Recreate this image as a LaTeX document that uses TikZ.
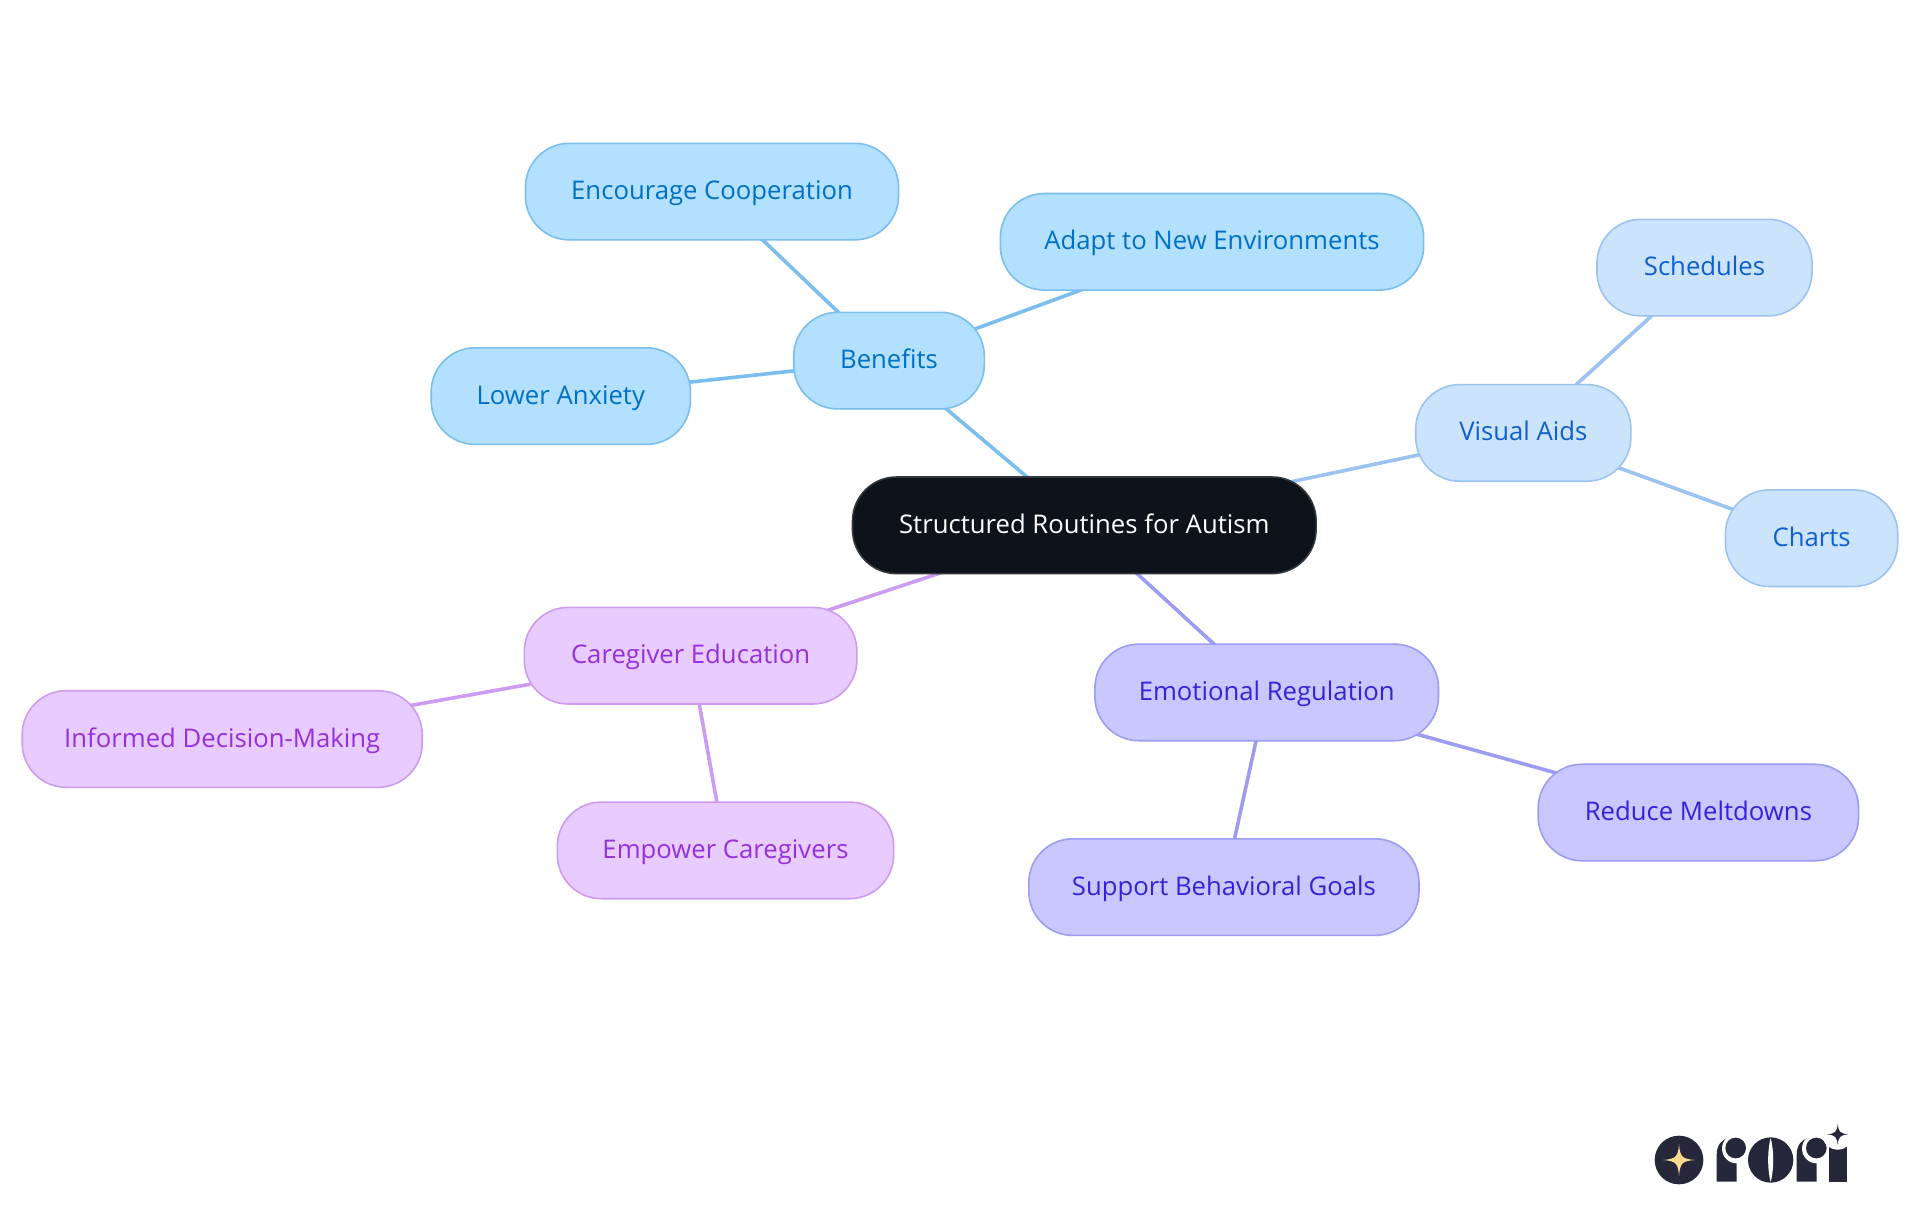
\documentclass[tikz,border=0pt]{standalone}
\usepackage{fontspec}
\setmainfont{Open Sans}
\usepackage{xcolor}
\usetikzlibrary{backgrounds}

\definecolor{rootfill}{HTML}{0C131B}
\definecolor{rootline}{HTML}{33383F}
\definecolor{benefill}{HTML}{B3E0FF}
\definecolor{beneline}{HTML}{7ABEEE}
\definecolor{benetext}{HTML}{0070C4}
\definecolor{aidsfill}{HTML}{CCE3FC}
\definecolor{aidsline}{HTML}{9CC3F0}
\definecolor{aidstext}{HTML}{0F5FCC}
\definecolor{emotfill}{HTML}{C8C8FF}
\definecolor{emotline}{HTML}{9C9CF0}
\definecolor{emottext}{HTML}{3423D6}
\definecolor{carefill}{HTML}{E8CBFF}
\definecolor{careline}{HTML}{CC9CF0}
\definecolor{caretext}{HTML}{9430DC}
\definecolor{logodark}{HTML}{27273A}
\definecolor{logostar}{HTML}{FBD98A}

\begin{document}
\begin{tikzpicture}[x=1pt, y=-1pt,
		every node/.style={rounded corners=44pt, minimum height=96.6pt, line width=1.6pt, inner sep=0pt, text height=22pt, text depth=6pt, font=\fontsize{25.7}{30}\selectfont},
		root/.style={draw=rootline, fill=rootfill, text=white},
		benefit/.style={draw=beneline, fill=benefill, text=benetext},
		aids/.style={draw=aidsline, fill=aidsfill, text=aidstext},
		emotion/.style={draw=emotline, fill=emotfill, text=emottext},
		caregiver/.style={draw=careline, fill=carefill, text=caretext},
		link/.style={line width=3.6pt},
		spark/.style={fill=logodark},
	]
	\useasboundingbox (0,0) rectangle (1920,1215);

	\node [root, minimum width=463.6pt] (routines) at (1084.3,525.3) {Structured Routines for Autism};

	\node [benefit, minimum width=190.6pt] (benefits) at (889,360.6) {Benefits};
	\node [benefit, minimum width=373.1pt] (cooperation) at (712,191.6) {Encourage Cooperation};
	\node [benefit, minimum width=423.3pt] (adapt) at (1212,241.8) {Adapt to New Environments};
	\node [benefit, minimum width=259.2pt] (anxiety) at (560.8,396.1) {Lower Anxiety};

	\node [aids, minimum width=215.1pt] (visual) at (1523.3,432.9) {Visual Aids};
	\node [aids, minimum width=215.1pt] (schedules) at (1704.5,267.6) {Schedules};
	\node [aids, minimum width=172.3pt] (charts) at (1811.6,538.2) {Charts};

	\node [caregiver, minimum width=332.6pt] (education) at (690.6,655.7) {Caregiver Education};
	\node [caregiver, minimum width=400pt] (informed) at (222.2,739) {Informed Decision-Making};
	\node [caregiver, minimum width=336.3pt] (empower) at (725.5,850.4) {Empower Caregivers};

	\node [emotion, minimum width=343.6pt] (regulation) at (1266.7,692.4) {Emotional Regulation};
	\node [emotion, minimum width=320.4pt] (meltdowns) at (1698.4,812.5) {Reduce Meltdowns};
	\node [emotion, minimum width=390.2pt] (goals) at (1223.9,887.1) {Support Behavioral Goals};

	\begin{pgfonlayer}{background}
		\draw [link, beneline] (routines.center) -- (benefits.center);
		\draw [link, beneline] (benefits.center) -- (cooperation.center);
		\draw [link, beneline] (benefits.center) -- (adapt.center);
		\draw [link, beneline] (benefits.center) -- (anxiety.center);
		\draw [link, aidsline] (routines.center) -- (visual.center);
		\draw [link, aidsline] (visual.center) -- (schedules.center);
		\draw [link, aidsline] (visual.center) -- (charts.center);
		\draw [link, careline] (routines.center) -- (education.center);
		\draw [link, careline] (education.center) -- (informed.center);
		\draw [link, careline] (education.center) -- (empower.center);
		\draw [link, emotline] (routines.center) -- (regulation.center);
		\draw [link, emotline] (regulation.center) -- (meltdowns.center);
		\draw [link, emotline] (regulation.center) -- (goals.center);
	\end{pgfonlayer}

	\begin{scope}[shift={(1620,1100)}, scale=1/3]
		\fill [spark] (177,180) circle [radius=73];
		\fill [logostar] (177,132) .. controls (180,170) and (186,177) .. (225,180) .. controls (186,183) and (180,190) .. (177,228) .. controls (174,190) and (168,183) .. (129,180) .. controls (168,177) and (174,170) .. (177,132) -- cycle;

		\fill [spark] (290,245) -- (290,165) .. controls (290,135) and (305,117) .. (328,114) -- (350,150) -- (350,245) -- cycle;
		\fill [white] (350,146) circle [radius=44];
		\fill [spark] (347,144) circle [radius=31];

		\fill [spark] (452,180) circle [radius=68];
		\fill [white] (452,114) .. controls (442,150) and (442,210) .. (452,246) .. controls (462,210) and (462,150) .. (452,114) -- cycle;

		\fill [spark] (530,245) -- (530,165) .. controls (530,135) and (545,117) .. (568,114) -- (590,150) -- (590,245) -- cycle;
		\fill [white] (590,146) circle [radius=44];
		\fill [spark] (589,144) circle [radius=31];

		\fill [spark] (627,245) -- (627,138) -- (680,138) -- (680,245) -- cycle;
		\fill [white] (653,103) circle [radius=46];
		\fill [spark] (653,71) .. controls (655,95) and (660,101) .. (685,103) .. controls (660,105) and (655,111) .. (653,135) .. controls (651,111) and (646,105) .. (621,103) .. controls (646,101) and (651,95) .. (653,71) -- cycle;
	\end{scope}
\end{tikzpicture}
\end{document}
